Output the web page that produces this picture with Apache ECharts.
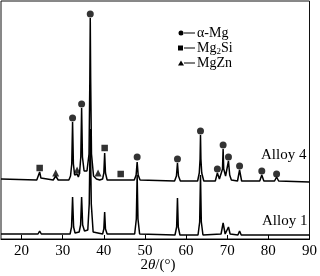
<!DOCTYPE html>
<html><head><meta charset="utf-8">
<script src="https://cdn.jsdelivr.net/npm/echarts@6/dist/echarts.min.js"></script>
<style>html,body{margin:0;padding:0;background:#fff}#c{width:320px;height:276px}</style>
</head><body><div id="c"></div>
<script>
// 2θ (degrees) vs. intensity (arbitrary units, offset curves)
const xTicks = [20, 30, 40, 50, 60, 70, 80, 90];
const alloy4 = [[15,60],[23.7,59],[24.1,61],[24.4,67],[24.7,61],[25.1,59],[27.7,59],[28.3,63],[28.9,59],[31.5,59],[31.9,63],[32.2,75],[32.4,117],[32.6,75],[32.9,64],[33.2,62],[33.5,65],[33.8,62],[34.1,66],[34.4,82],[34.6,131],[34.8,82],[35.2,68],[35.9,68],[36.4,85],[36.6,160],[36.7,221],[36.8,160],[37.0,85],[37.5,63],[38.2,60],[38.6,62],[39.0,59],[39.7,60],[40.0,66],[40.2,86],[40.4,66],[40.8,59],[43.8,59],[44.1,61],[44.5,59],[47.4,59],[47.85,64],[48.1,77],[48.35,64],[48.8,59],[57.2,58],[57.65,63],[57.9,76],[58.15,63],[58.6,58],[62.8,58],[63.2,66],[63.4,80],[63.5,104],[63.6,80],[63.8,66],[64.3,58],[67.1,58],[67.6,66],[68.1,60],[68.5,62],[68.85,70],[69.0,90],[69.15,70],[69.6,63],[70.0,64],[70.3,78],[70.6,64],[71.0,59],[72.5,58],[73.0,69],[73.5,58],[77.9,58],[78.4,64],[78.9,58],[81.5,58],[82.0,62],[82.5,58],[90,57]];
const alloy1 = [[15,5],[24.0,5],[24.4,8],[24.8,5],[27.9,5],[28.3,7],[28.7,5],[31.8,5],[32.15,12],[32.4,42],[32.65,12],[33.0,6],[34.0,7],[34.35,14],[34.6,42],[34.85,14],[35.3,8],[36.1,9],[36.45,35],[36.7,110],[36.95,35],[37.4,7],[39.7,5],[40.0,10],[40.2,27],[40.4,10],[40.8,5],[47.5,5],[47.9,20],[48.1,64],[48.3,20],[48.7,5],[57.3,4],[57.7,12],[57.9,41],[58.1,12],[58.5,4],[62.9,4],[63.3,17],[63.5,64],[63.7,17],[64.1,4],[68.5,5],[69.0,16],[69.5,5],[69.9,5],[70.3,12],[70.7,5],[72.6,4],[73.0,8],[73.4,4],[78.0,4],[78.4,6],[78.8,4],[90,4]];
const mgMarks = [[32.4,121],[34.6,135],[36.7,225],[48.1,82],[57.9,80],[63.5,108],[67.6,70],[69.0,94],[70.3,82],[73.0,73],[78.4,68],[82.0,65]];
const mg2siMarks = [[24.4,71],[40.2,91],[44.1,65]];
const mgznMarks = [[28.3,66],[33.5,69],[38.6,66]];
const curveNames = ['Alloy 4', 'Alloy 1'];
const phaseNames = ['α-Mg', 'Mg2Si', 'MgZn'];

const font = 'Liberation Serif';
const chart = echarts.init(document.getElementById('c'));
const markSeries = (data, sym, size) => ({
  type: 'scatter', data, symbol: sym, symbolSize: size, silent: true,
  itemStyle: { color: '#000' }, z: 5
});
chart.setOption({
  animation: false,
  grid: { left: 1, right: 7, top: 1, bottom: 37, show: true, borderColor: '#111', borderWidth: 1 },
  xAxis: {
    type: 'value', min: 15, max: 90,
    axisLine: { lineStyle: { color: '#000', width: 1 } },
    axisTick: { inside: true, length: 4, customValues: xTicks, lineStyle: { color: '#000' } },
    axisLabel: { customValues: xTicks, color: '#000', fontFamily: font, fontSize: 15, margin: 5 },
    splitLine: { show: false }
  },
  yAxis: { type: 'value', min: 0, max: 238, show: false, splitLine: { show: false } },
  series: [
    { name: curveNames[0], type: 'line', data: alloy4, showSymbol: false, lineStyle: { color: '#000', width: 1.5 } },
    { name: curveNames[1], type: 'line', data: alloy1, showSymbol: false, lineStyle: { color: '#000', width: 1.5 } },
    markSeries(mgMarks, 'circle', 7),
    markSeries(mg2siMarks, 'rect', 6.5),
    markSeries(mgznMarks, 'triangle', 7)
  ],
  graphic: [
    { type: 'circle', shape: { cx: 181, cy: 33, r: 2.5 }, style: { fill: '#000' } },
    { type: 'line', shape: { x1: 184, y1: 33, x2: 195, y2: 33 }, style: { stroke: '#000', lineWidth: 1 } },
    { type: 'text', x: 197, y: 33, style: { text: phaseNames[0], font: '14px ' + font, fill: '#000', verticalAlign: 'middle' } },
    { type: 'rect', shape: { x: 178, y: 45.5, width: 5, height: 5 }, style: { fill: '#000' } },
    { type: 'line', shape: { x1: 184, y1: 48, x2: 195, y2: 48 }, style: { stroke: '#000', lineWidth: 1 } },
    { type: 'text', x: 197, y: 48, style: { text: '{n|Mg}{s|2}{n|Si}', verticalAlign: 'middle',
        rich: { n: { font: '14px ' + font, fill: '#000' }, s: { font: '9px ' + font, fill: '#000', padding: [8, 0, 0, 0] } } } },
    { type: 'polygon', shape: { points: [[181, 60.5], [178, 65.5], [184, 65.5]] }, style: { fill: '#000' } },
    { type: 'line', shape: { x1: 184, y1: 63, x2: 195, y2: 63 }, style: { stroke: '#000', lineWidth: 1 } },
    { type: 'text', x: 197, y: 63, style: { text: phaseNames[2], font: '14px ' + font, fill: '#000', verticalAlign: 'middle' } },
    { type: 'text', x: 261, y: 155, style: { text: curveNames[0], font: '15px ' + font, fill: '#000', verticalAlign: 'middle' } },
    { type: 'text', x: 262, y: 221, style: { text: curveNames[1], font: '15px ' + font, fill: '#000', verticalAlign: 'middle' } },
    { type: 'text', x: 158, y: 265, style: { text: '{n|2}{i|θ}{n|/(°)}', align: 'center', verticalAlign: 'middle',
        rich: { n: { font: '15px ' + font, fill: '#000' }, i: { font: 'italic 15px ' + font, fill: '#000' } } } }
  ]
});
</script></body></html>
